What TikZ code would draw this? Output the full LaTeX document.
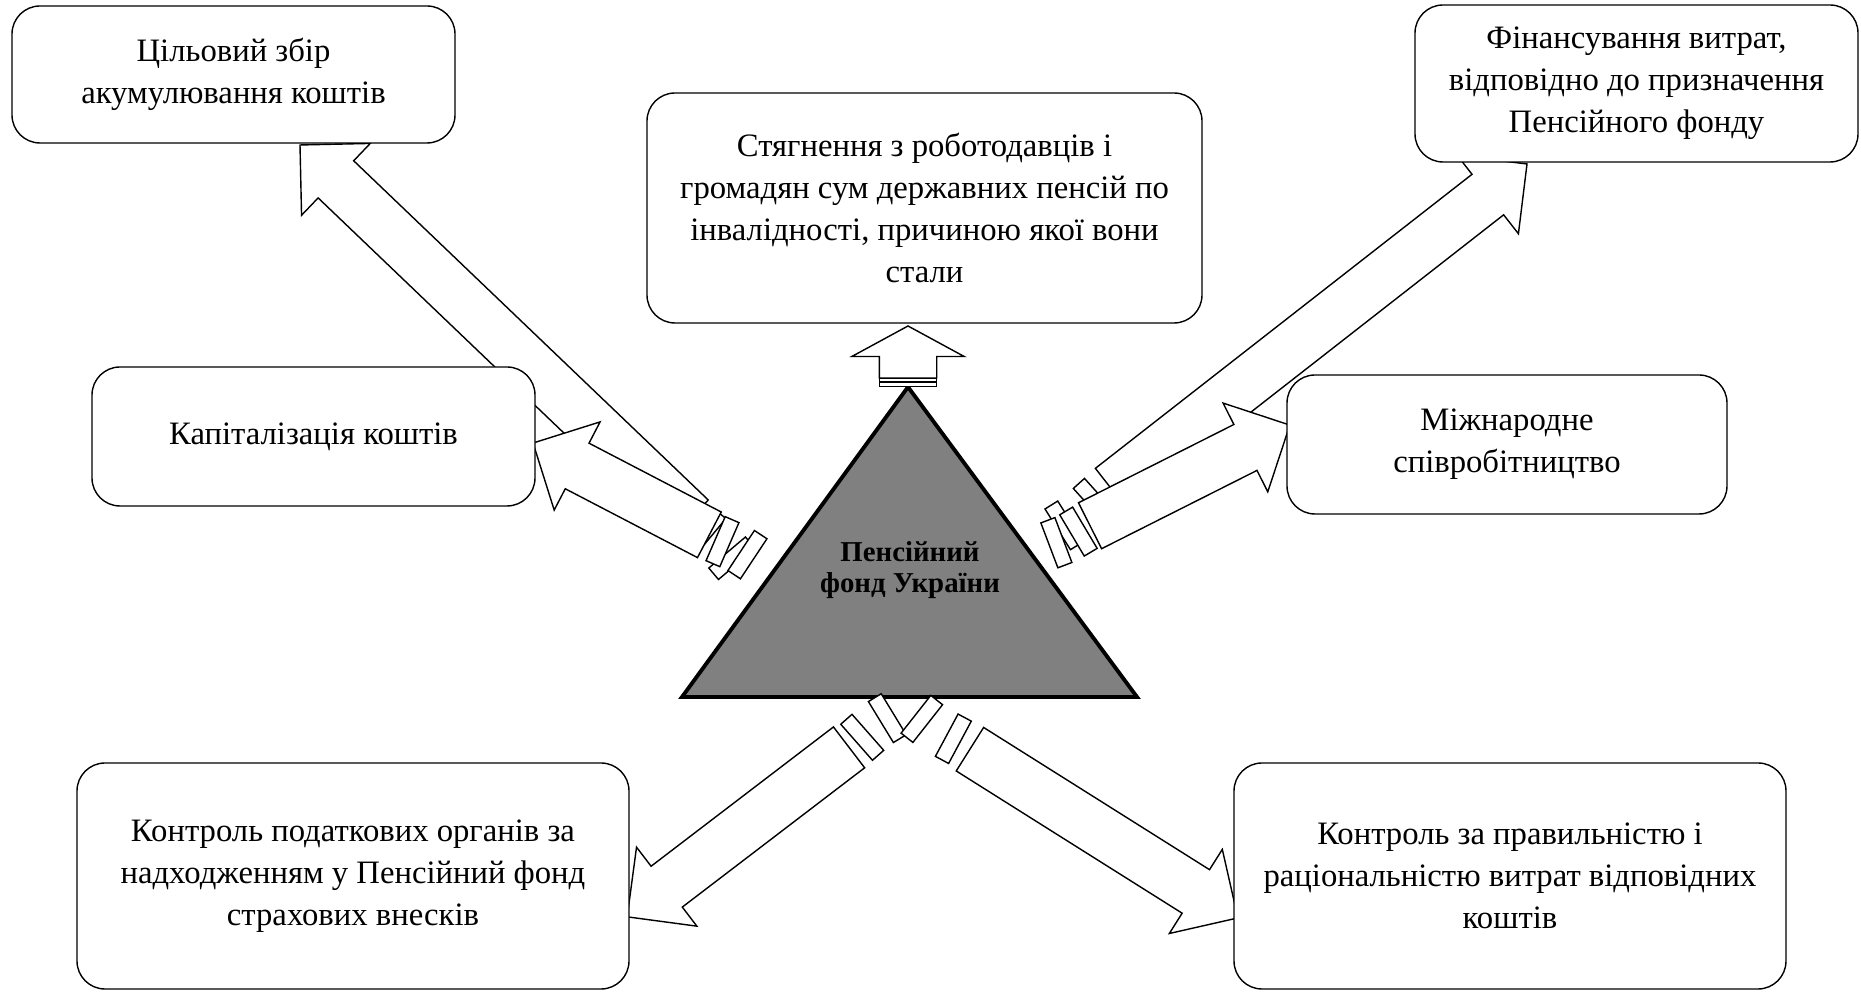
\documentclass[tikz,border=0pt]{standalone}
\usepackage{fontspec}
\setmainfont{Liberation Serif}
\usetikzlibrary{shapes.arrows, calc}

% wide outlined arrow: tail #2, tip #3, shaft starts #4 after the tail
\newcommand{\flowarrow}[4][]{%
  \coordinate (#2s) at ($(#2)!#4!(#3)$);
  \path (#2) -- ($(#2)!0.42!(#2s)$) node[seg, at end, rotate=-6] {};
  \path (#2) -- ($(#2)!0.80!(#2s)$) node[seg, at end, rotate=4] {};
  \path let \p1=($(#3)-(#2s)$), \n1={veclen(\x1,\y1)} in (#2s) -- (#3)
    node[flow, at start, anchor=tail, minimum height=\n1, #1] {};
}

\begin{document}
\begin{tikzpicture}[
    block/.style={rectangle, draw, thin, fill=white, rounded corners=0.28cm, align=center, inner sep=2pt, font=\fontsize{9.3}{12}\selectfont},
    fundlabel/.style={align=center, inner sep=0pt, font=\fontsize{8.2}{9}\selectfont\bfseries},
    flow/.style={single arrow, draw, thin, fill=white, inner xsep=0pt, inner ysep=0.25cm, outer sep=0pt, minimum width=0.98cm, single arrow head extend=0.24cm, single arrow tip angle=90, sloped, allow upside down},
    upflow/.style={inner ysep=0.28cm, minimum width=1.11cm, single arrow head extend=0.275cm, single arrow tip angle=123},
    seg/.style={rectangle, draw, thin, fill=white, inner sep=0pt, outer sep=0pt, minimum width=0.15cm, minimum height=0.48cm, sloped, allow upside down},
    thinseg/.style={seg, minimum width=0.04cm, minimum height=0.57cm}]

    \useasboundingbox (0,0) rectangle (18.61,-9.94);

    % Fund
    \coordinate (apex) at (9.08,-3.87);
    \coordinate (baseL) at (6.82,-6.97);
    \coordinate (baseR) at (11.37,-6.97);
    \draw[fill=gray, line width=1.1pt] (apex) -- (baseL) -- (baseR) -- cycle;
    \node (fund) [fundlabel] at (9.10,-5.70) {Пенсійний\\фонд України};

    % Arrow ends
    \coordinate (tGoal) at (7.62,-5.87);   \coordinate (hGoal) at (3.00,-1.45);
    \coordinate (tCap) at (7.75,-5.69);    \coordinate (hCap) at (5.33,-4.43);
    \coordinate (tFin) at (10.30,-5.52);   \coordinate (hFin) at (15.27,-1.64);
    \coordinate (tIntl) at (10.32,-5.55);  \coordinate (hIntl) at (12.90,-4.25);
    \coordinate (tTax) at (9.15,-6.97);    \coordinate (hTax) at (6.27,-9.17);
    \coordinate (tCost) at (8.87,-6.97);   \coordinate (hCost) at (12.38,-9.18);
    \coordinate (hUp) at (9.08,-3.26);

    % Arrows
    \flowarrow{tGoal}{hGoal}{0.99cm}
    \flowarrow{tCap}{hCap}{0.74cm}
    \flowarrow{tFin}{hFin}{1.03cm}
    \flowarrow{tIntl}{hIntl}{0.65cm}
    \flowarrow{tTax}{hTax}{0.83cm}
    \flowarrow{tCost}{hCost}{0.98cm}

    \path (apex) -- ($(apex)!0.025cm!(hUp)$) node[thinseg, at end] {};
    \path (apex) -- ($(apex)!0.07cm!(hUp)$) node[thinseg, at end] {};
    \coordinate (apexs) at ($(apex)!0.09cm!(hUp)$);
    \path let \p1=($(hUp)-(apexs)$), \n1={veclen(\x1,\y1)} in (apexs) -- (hUp)
        node[flow, upflow, at start, anchor=tail, minimum height=\n1] {};

    % Boxes
    \node (goal) [block, minimum width=4.43cm, minimum height=1.37cm] at (2.335,-0.745) {Цільовий збір\\акумулювання коштів};
    \node (recover) [block, minimum width=5.55cm, minimum height=2.30cm] at (9.245,-2.08) {Стягнення з роботодавців і\\громадян сум державних пенсій по\\інвалідності, причиною якої вони\\стали};
    \node (finance) [block, minimum width=4.43cm, minimum height=1.57cm] at (16.365,-0.835) {Фінансування витрат,\\відповідно до призначення\\Пенсійного фонду};
    \node (capital) [block, minimum width=4.43cm, minimum height=1.39cm] at (3.135,-4.365) {Капіталізація коштів};
    \node (intl) [block, minimum width=4.40cm, minimum height=1.39cm] at (15.07,-4.445) {Міжнародне\\співробітництво};
    \node (taxctrl) [block, minimum width=5.52cm, minimum height=2.26cm] at (3.53,-8.76) {Контроль податкових органів за\\надходженням у Пенсійний фонд\\страхових внесків};
    \node (costctrl) [block, minimum width=5.52cm, minimum height=2.26cm] at (15.10,-8.76) {Контроль за правильністю і\\раціональністю витрат відповідних\\коштів};

\end{tikzpicture}
\end{document}
